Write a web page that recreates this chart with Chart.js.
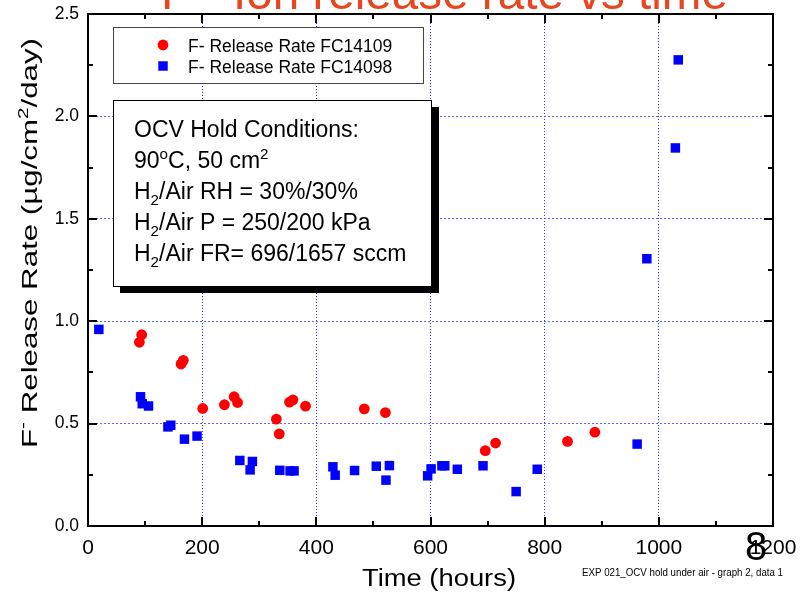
<!DOCTYPE html>
<html>
<head>
<meta charset="utf-8">
<script src="https://cdn.jsdelivr.net/npm/chart.js@4/dist/chart.umd.min.js"></script>
<style>
html,body{margin:0;padding:0;background:#fff;}
#wrap{width:801px;height:593px;position:relative;}
canvas{display:block;}
</style>
</head>
<body>
<div id="wrap"><canvas id="c" width="801" height="593"></canvas></div>
<script>
// ---------------- data ----------------
const seriesAName = 'F- Release Rate FC14109';
const seriesBName = 'F- Release Rate FC14098';
const hoursA = [90, 94, 163, 167, 201, 239, 256, 262, 330, 335, 353, 359, 381, 484, 521, 696, 714, 840, 888];
const rateA  = [0.897, 0.934, 0.791, 0.809, 0.574, 0.592, 0.631, 0.603, 0.522, 0.450, 0.605, 0.616, 0.585, 0.572, 0.554, 0.368, 0.405, 0.413, 0.458];
const hoursB = [19, 92, 95, 106, 140, 145, 169, 191, 266, 284, 288, 336, 354, 361, 429, 433, 467, 505, 522, 528, 595, 601, 620, 625, 647, 692, 750, 787, 962, 979, 1029, 1034];
const rateB  = [0.960, 0.631, 0.597, 0.586, 0.484, 0.492, 0.424, 0.439, 0.320, 0.274, 0.315, 0.272, 0.269, 0.269, 0.289, 0.248, 0.271, 0.292, 0.224, 0.295, 0.245, 0.279, 0.294, 0.294, 0.277, 0.294, 0.168, 0.277, 0.400, 1.305, 1.846, 2.276];
const xTicks = [0, 200, 400, 600, 800, 1000, 1200];
const yTicks = [0.0, 0.5, 1.0, 1.5, 2.0, 2.5];
const titleLead = 'F';
const titleSup = '\u2212';
const titleRest = 'Ion release rate vs time';
const xAxisTitle = 'Time (hours)';
const yAxisTitle = [['F',''],['-','sup'],[' Release Rate (\u00b5g/cm',''],['2','sup'],['/day)','']];
const conditionLines = [
  [['OCV Hold Conditions:','']],
  [['90',''],['o','sup'],['C, 50 cm',''],['2','sup']],
  [['H',''],['2','sub'],['/Air RH = 30%/30%','']],
  [['H',''],['2','sub'],['/Air P = 250/200 kPa','']],
  [['H',''],['2','sub'],['/Air FR= 696/1657 sccm','']]
];
const footnote = 'EXP 021_OCV hold under air - graph 2, data 1';
const pageMark = '8';

// ---------------- helpers ----------------
const FAM = '"Liberation Sans", Arial, sans-serif';
function richWidth(ctx, segs, size) {
  let w = 0;
  for (const [t, k] of segs) {
    const fs = k ? size * 0.66 : size;
    ctx.font = fs + 'px ' + FAM;
    w += ctx.measureText(t).width;
  }
  return w;
}
function drawRich(ctx, segs, x, y, size) {
  let cx = x;
  for (const [t, k] of segs) {
    let fs = size, dy = 0;
    if (k === 'sub') { fs = size * 0.66; dy = size * 0.27; }
    else if (k === 'sup') { fs = size * 0.66; dy = -size * 0.4; }
    ctx.font = fs + 'px ' + FAM;
    ctx.fillText(t, cx, y + dy);
    cx += ctx.measureText(t).width;
  }
  return cx - x;
}

const xMin = xTicks[0], xMax = xTicks[xTicks.length - 1];
const yMin = yTicks[0], yMax = yTicks[yTicks.length - 1];

const decorPlugin = {
  id: 'decor',
  afterDatasetsDraw(chart) {
    const ctx = chart.ctx;
    ctx.save();
    // legend box
    ctx.fillStyle = '#fff';
    ctx.fillRect(113, 27, 310, 56);
    ctx.strokeStyle = '#444';
    ctx.lineWidth = 1;
    ctx.strokeRect(113.5, 27.5, 310, 56);
    const ds = chart.data.datasets;
    const rows = [45, 66];
    ds.forEach((d, i) => {
      const el = chart.getDatasetMeta(i).data[0];
      const o = el.options;
      ctx.fillStyle = o.backgroundColor;
      ctx.strokeStyle = o.backgroundColor;
      Chart.helpers.drawPoint(ctx, {pointStyle: o.pointStyle, radius: o.radius, borderWidth: 0, rotation: 0}, 163, rows[i]);
      ctx.fillStyle = '#000';
      ctx.font = '17.5px ' + FAM;
      ctx.textAlign = 'left';
      ctx.textBaseline = 'alphabetic';
      ctx.fillText(d.label, 188, rows[i] + 6.5);
    });
    // text box with shadow
    ctx.fillStyle = '#000';
    ctx.fillRect(120, 107, 319, 186);
    ctx.fillStyle = '#fff';
    ctx.fillRect(113, 100, 319, 187);
    ctx.strokeStyle = '#000';
    ctx.lineWidth = 1;
    ctx.strokeRect(113.5, 100.5, 318, 186);
    ctx.fillStyle = '#000';
    ctx.textAlign = 'left';
    ctx.textBaseline = 'alphabetic';
    conditionLines.forEach((segs, i) => {
      drawRich(ctx, segs, 134, 137 + i * 31, 23);
    });
    ctx.restore();
  },
  afterDraw(chart) {
    const ctx = chart.ctx;
    const a = chart.chartArea;
    const xs = chart.scales.x, ys = chart.scales.y;
    ctx.save();
    // frame
    ctx.strokeStyle = '#000';
    ctx.lineWidth = 2;
    ctx.strokeRect(a.left, a.top, a.right - a.left, a.bottom - a.top);
    // inner ticks
    ctx.beginPath();
    for (let i = 0; i < xTicks.length; i++) {
      const px = Math.round(xs.getPixelForValue(xTicks[i]));
      ctx.moveTo(px, a.bottom); ctx.lineTo(px, a.bottom - 9);
      ctx.moveTo(px, a.top); ctx.lineTo(px, a.top + 9);
      if (i < xTicks.length - 1) {
        const mx = Math.round(xs.getPixelForValue((xTicks[i] + xTicks[i + 1]) / 2));
        ctx.moveTo(mx, a.bottom); ctx.lineTo(mx, a.bottom - 5);
        ctx.moveTo(mx, a.top); ctx.lineTo(mx, a.top + 5);
      }
    }
    for (let i = 0; i < yTicks.length; i++) {
      const py = Math.round(ys.getPixelForValue(yTicks[i]));
      ctx.moveTo(a.left, py); ctx.lineTo(a.left + 9, py);
      ctx.moveTo(a.right, py); ctx.lineTo(a.right - 9, py);
      if (i < yTicks.length - 1) {
        const my = Math.round(ys.getPixelForValue((yTicks[i] + yTicks[i + 1]) / 2));
        ctx.moveTo(a.left, my); ctx.lineTo(a.left + 5, my);
        ctx.moveTo(a.right, my); ctx.lineTo(a.right - 5, my);
      }
    }
    ctx.stroke();

    // title (mostly cut off at top)
    ctx.fillStyle = '#e8461e';
    ctx.textAlign = 'left';
    ctx.textBaseline = 'alphabetic';
    ctx.font = '48px ' + FAM;
    ctx.fillText(titleLead, 161, 9);
    ctx.font = '30px ' + FAM;
    ctx.fillText(titleSup, 193, -12);
    ctx.font = '48px ' + FAM;
    const tw = ctx.measureText(titleRest).width;
    ctx.save();
    ctx.translate(233, 9);
    ctx.scale(495 / tw, 1);
    ctx.fillText(titleRest, 0, 0);
    ctx.restore();

    // x axis title
    ctx.fillStyle = '#000';
    ctx.font = '23px ' + FAM;
    const xw = ctx.measureText(xAxisTitle).width;
    ctx.save();
    ctx.translate(439, 586);
    ctx.scale(154 / xw, 1);
    ctx.textAlign = 'center';
    ctx.fillText(xAxisTitle, 0, 0);
    ctx.restore();

    // y axis title (rotated)
    const yw = richWidth(ctx, yAxisTitle, 21.5);
    ctx.save();
    ctx.translate(37, 448);
    ctx.rotate(-Math.PI / 2);
    ctx.scale(410 / yw, 1);
    ctx.textAlign = 'left';
    drawRich(ctx, yAxisTitle, 0, 0, 21.5);
    ctx.restore();

    // page mark and footnote
    ctx.font = '40px ' + FAM;
    ctx.textAlign = 'center';
    ctx.fillText(pageMark, 756, 560);
    ctx.font = '10px ' + FAM;
    ctx.textAlign = 'left';
    ctx.fillText(footnote, 582, 576, 201);
    ctx.restore();
  }
};

const gridColor = (c, col) => {
  const v = c.tick ? c.tick.value : null;
  const s = c.scale;
  if (v === s.min || v === s.max) return 'rgba(0,0,0,0)';
  return col;
};
const noPad = s => { s.paddingTop = 0; s.paddingBottom = 0; s.paddingLeft = 0; s.paddingRight = 0; };

new Chart(document.getElementById('c'), {
  type: 'scatter',
  data: {
    datasets: [
      {
        label: seriesAName,
        data: hoursA.map((h, i) => ({x: h, y: rateA[i]})),
        pointStyle: 'circle',
        pointRadius: 5.4,
        pointHoverRadius: 5.4,
        pointBorderWidth: 0,
        backgroundColor: '#ff0000',
        borderColor: '#ff0000'
      },
      {
        label: seriesBName,
        data: hoursB.map((h, i) => ({x: h, y: rateB[i]})),
        pointStyle: 'rect',
        pointRadius: 6.7,
        pointHoverRadius: 6.7,
        pointBorderWidth: 0,
        backgroundColor: '#0000ff',
        borderColor: '#0000ff'
      }
    ]
  },
  options: {
    responsive: false,
    animation: false,
    devicePixelRatio: 1,
    layout: {padding: {top: 14, right: 28, bottom: 0, left: 0}},
    plugins: {legend: {display: false}, tooltip: {enabled: false}, title: {display: false}},
    scales: {
      x: {
        type: 'linear',
        position: 'bottom',
        min: xMin, max: xMax,
        afterBuildTicks: s => { s.ticks = xTicks.map(v => ({value: v})); },
        afterFit: s => { s.height = 67; noPad(s); },
        ticks: {
          color: '#000',
          font: {family: FAM, size: 21},
          padding: 10,
          maxRotation: 0,
          callback: v => String(v)
        },
        grid: {
          drawTicks: false,
          lineWidth: 1,
          color: c => gridColor(c, 'rgba(30,30,255,0.9)')
        },
        border: {display: false, dash: [1, 2]}
      },
      y: {
        type: 'linear',
        min: yMin, max: yMax,
        afterBuildTicks: s => { s.ticks = yTicks.map(v => ({value: v})); },
        afterFit: s => { s.width = 88; noPad(s); },
        ticks: {
          color: '#000',
          font: {family: FAM, size: 17.5},
          padding: 9,
          callback: v => Number(v).toFixed(1)
        },
        grid: {
          drawTicks: false,
          lineWidth: 1,
          color: c => gridColor(c, 'rgba(60,60,255,0.8)')
        },
        border: {display: false, dash: [2, 2]}
      }
    }
  },
  plugins: [decorPlugin]
});
</script>
</body>
</html>
